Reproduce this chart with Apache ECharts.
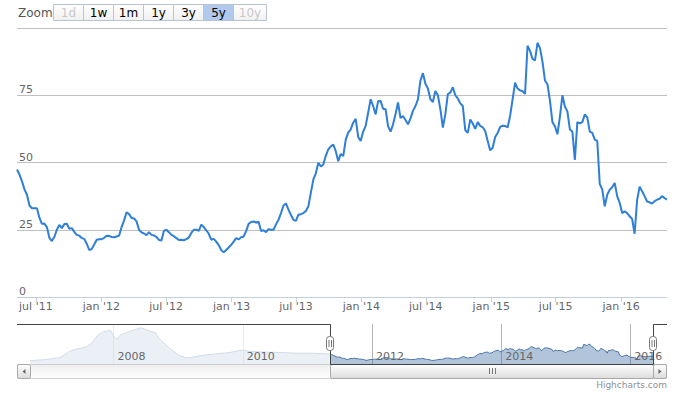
<!DOCTYPE html>
<html><head><meta charset="utf-8">
<script src="https://cdn.jsdelivr.net/npm/echarts@6/dist/echarts.min.js"></script>
<style>html,body{margin:0;padding:0;background:#fff}#c{width:679px;height:393px}</style>
</head><body><div id="c"></div>
<script>
// ---- data ----
const startDate = '2011-05-09';
const stepDays = 7;
const weeklyValues = [
47.4,45.5,43,40,38,34,33,33,33,29.5,27.2,27.3,26,22,20.8,22.3,25,26.8,25.6,27.1,
27.2,25.4,25.6,24.2,23.1,22.8,21.9,21.6,19.8,17.5,17.8,19.5,21.3,21.5,21.5,22,22.8,22.7,22.3,22.2,
22.5,22.8,26,28.5,31.5,30.8,29.4,29.2,28.1,25,24,23.6,23,24.1,23.1,22.9,22.3,21.2,21,24.6,
25,24.1,23.1,22.6,21.9,21.2,21.3,21.1,21.5,22.1,23.8,25,25,24.6,26.9,26,24.8,23.5,21.3,21.6,
20.6,19.3,17.5,16.6,17.5,18.4,19.4,20.6,21.9,21.4,22.2,22.5,24.5,27.2,27.9,28.1,27.7,28,24.5,24.8,
24.1,25.2,25,25,27,28.7,31.2,34,34.8,32.5,30.5,28.7,28.3,30.6,30.8,31.2,32,33.7,38.8,43.7,
46,49.9,48.5,49.3,52.5,54.9,56,56.7,54.2,50.5,53.2,52.4,58.5,61.1,62.3,64.8,66.2,59.5,58,61.5,
63.6,68.5,73.5,71,67.9,72.8,72.9,70,69.8,63.5,61.5,64.2,68,72.3,66.5,67.3,65.8,64.2,66.4,69.2,
71,73.5,80.5,83.2,79.3,77.5,73.5,72.5,76.6,75,69.8,63,68,75.4,76,78,75,73.8,72,71,
62,61,66,64.5,62.5,65,63.6,63.1,61.7,58,54.5,55.5,59.5,61,63.2,63.7,63.6,63,67.3,73.5,
79.7,77.5,76.8,76.5,75.5,93.4,91.5,88.5,88,94.5,92.5,87.5,80.5,79.1,73,65,63.5,60.5,67,75,
70.8,69,62.3,61.5,51,65,64.5,65,67.9,66.7,61.5,61,58.5,58,42,40,33.7,38,39.9,40.8,
42.4,37.5,35,31.2,31.8,31.2,30,29,23.5,36,41,39.3,37.5,35.5,35.2,34.7,35.6,36.2,36.5,37.5,
36.8,36.2
];
// earlier history, only visible in the navigator
const historyDates = ['2006-09-15','2006-12-01','2007-03-01','2007-04-01','2007-05-01','2007-06-01','2007-07-01','2007-08-01','2007-09-01','2007-10-01','2007-11-01','2007-12-15','2008-01-01','2008-01-20','2008-02-10','2008-03-10','2008-04-05','2008-05-05','2008-06-01','2008-07-01','2008-07-25','2008-08-25','2008-09-12','2008-10-01','2008-10-30','2008-12-05','2009-01-05','2009-02-15','2009-03-20','2009-05-15','2009-07-30','2009-10-15','2010-01-01','2010-02-05','2010-04-20','2010-08-15','2010-11-15','2011-02-15','2011-05-01'];
const historyValues = [16,20,30,45,62,70,75,82,100,135,152,159,132,116,140,148,156,164,172,164,156,148,124,108,84,60,41,29,32,41,48,54,67,60,57,54,51,51,48];

const xTickDates = ['2011-07-01','2012-01-01','2012-07-01','2013-01-01','2013-07-01','2014-01-01','2014-07-01','2015-01-01','2015-07-01','2016-01-01'];
const xTickLabels = ["jul '11","jan '12","jul '12","jan '13","jul '13","jan '14","jul '14","jan '15","jul '15","jan '16"];
const yTickValues = [0,25,50,75,100];
const navTickDates = ['2008-01-01','2010-01-01','2012-01-01','2014-01-01','2016-01-01'];
const navTickLabels = ['2008','2010','2012','2014','2016'];
const zoomButtons = ['1d','1w','1m','1y','3y','5y','10y'];
const selectedButton = '5y';
const disabledButtons = ['1d','10y'];

// ---- build ----
const FONT = 'DejaVu Sans';
const DAY = 86400000;
function ts(s){const p=s.split('-').map(Number);return Date.UTC(p[0],p[1]-1,p[2]);}
const t0 = ts(startDate);
const mainData = weeklyValues.map((v,i)=>[t0+i*stepDays*DAY, v]);
const histData = historyDates.map((d,i)=>[ts(d), historyValues[i]]);
const navData = histData.concat(mainData);
const mainMin = t0, mainMax = mainData[mainData.length-1][0];
const navMin = histData[0][0], navMax = mainMax;
const xTickTs = xTickDates.map(ts);
const navTickTs = navTickDates.map(ts);
function nearIdx(arr, v){for(let k=0;k<arr.length;k++){if(Math.abs(arr[k]-v)<DAY)return k;}return -1;}

const chart = echarts.init(document.getElementById('c'), null, {renderer:'svg', width:679, height:393});

const option = {
  animation:false,
  backgroundColor:'#fff',
  grid:[
    {left:17,right:12,top:28,bottom:96,outerBoundsMode:'none'},
    {left:30,right:26,top:324,bottom:29,outerBoundsMode:'none'}
  ],
  xAxis:[
    {type:'value',gridIndex:0,position:'bottom',min:mainMin,max:mainMax,scale:true,
     axisLine:{show:true,onZero:false,lineStyle:{color:'#C0D0E0',width:1}},
     axisTick:{show:true,customValues:xTickTs,length:5,lineStyle:{color:'#C0D0E0'}},
     axisLabel:{customValues:xTickTs,color:'#666',fontSize:11,fontFamily:FONT,margin:4,
       formatter:function(v){const k=nearIdx(xTickTs,v);return k>=0?xTickLabels[k]:'';}},
     splitLine:{show:false}},
    {type:'value',gridIndex:1,position:'bottom',min:navMin,max:navMax,scale:true,z:1,
     axisLine:{show:false,onZero:false},
     axisTick:{show:false,customValues:navTickTs},
     axisLabel:{show:false,customValues:navTickTs},
     splitLine:{show:true,lineStyle:{color:'#b4b4b4',width:1}}},
    {type:'value',gridIndex:1,position:'bottom',min:navMin,max:navMax,scale:true,z:10,
     axisLine:{show:false,onZero:false},
     axisTick:{show:false,customValues:navTickTs},
     axisLabel:{show:true,customValues:navTickTs,inside:true,align:'left',verticalAlign:'bottom',
       padding:[0,0,0,4],margin:2,color:'#666',fontSize:11,fontFamily:FONT,
       formatter:function(v){const k=nearIdx(navTickTs,v);return k>=0?navTickLabels[k]:'';}},
     splitLine:{show:false}}
  ],
  yAxis:[
    {type:'value',gridIndex:0,min:yTickValues[0],max:yTickValues[yTickValues.length-1],interval:25,
     axisLine:{show:false},axisTick:{show:false},
     splitLine:{show:true,lineStyle:{color:'#C0C0C0',width:1}},
     axisLabel:{inside:true,margin:2,verticalAlign:'bottom',color:'#666',fontSize:11,fontFamily:FONT,
       formatter:function(v){return v===yTickValues[yTickValues.length-1]?'':String(v);}}},
    {type:'value',gridIndex:1,min:0,max:190,show:false,splitLine:{show:false}}
  ],
  series:[
    {type:'line',name:'main',xAxisIndex:0,yAxisIndex:0,data:mainData,showSymbol:false,
     lineStyle:{color:'#2f7ed8',width:2},itemStyle:{color:'#2f7ed8'},z:3,silent:true},
    {type:'line',name:'navigator',xAxisIndex:1,yAxisIndex:1,data:navData,showSymbol:false,
     lineStyle:{color:'#4572A7',width:1},itemStyle:{color:'#4572A7'},
     areaStyle:{color:'#4572A7',opacity:0.42},z:2,silent:true}
  ]
};
chart.setOption(option);

// ---- chrome: range selector, navigator mask/handles, scrollbar, credits ----
const hl = Math.round(chart.convertToPixel({xAxisIndex:1}, mainMin));
const hr = Math.round(chart.convertToPixel({xAxisIndex:1}, mainMax));
const navL = Math.round(chart.convertToPixel({xAxisIndex:1}, navMin));
const navTop = 324, navBot = 364;
const sbL = 17, sbR = 667, sbTop = 364, sbH = 14;
const g = [];
function grad(a,b){return new echarts.graphic.LinearGradient(0,0,0,1,[{offset:0,color:a},{offset:1,color:b}]);}

g.push({type:'text',z:20,style:{text:'Zoom',x:18,y:13,fill:'#555',fontSize:12,fontFamily:FONT,verticalAlign:'middle'}});
let bx = 53;
zoomButtons.forEach(function(b){
  const w = b.length>2?33:30;
  const sel = b===selectedButton, dis = disabledButtons.indexOf(b)>=0;
  g.push({type:'rect',z:20,shape:{x:bx+0.5,y:4.5,width:w,height:16},
    style:{fill: sel? '#b0c9ec' : grad('#ffffff','#f0f0f0'), stroke:'#b8c4d2',lineWidth:1}});
  g.push({type:'text',z:21,style:{text:b,x:bx+0.5+w/2,y:13,align:'center',verticalAlign:'middle',
    fill: dis?'#c8c8c8':'#000',fontSize:12,fontFamily:FONT}});
  bx += w;
});

g.push({type:'rect',z:5,shape:{x:navL,y:navTop,width:hl-navL,height:navBot-navTop},style:{fill:'rgba(255,255,255,0.75)'}});

g.push({type:'rect',z:6,shape:{x:sbL+0.5,y:sbTop+0.5,width:sbR-sbL-1,height:sbH},style:{fill:grad('#eeeeee','#ffffff'),stroke:'#cccccc',lineWidth:1}});
g.push({type:'rect',z:7,shape:{x:hl+0.5,y:sbTop+0.5,width:hr-hl,height:sbH,r:2},style:{fill:grad('#ffffff','#dcdcdc'),stroke:'#a8a8a8',lineWidth:1}});
const cx = Math.round((hl+hr)/2);
[-3,0,3].forEach(function(d){
  g.push({type:'line',z:8,shape:{x1:cx+d+0.5,y1:sbTop+4,x2:cx+d+0.5,y2:sbTop+10},style:{stroke:'#777',lineWidth:1}});
});
[[sbL,'L'],[sbR-sbH,'R']].forEach(function(p){
  g.push({type:'rect',z:8,shape:{x:p[0]+0.5,y:sbTop+0.5,width:sbH-1,height:sbH,r:2},style:{fill:grad('#ffffff','#dcdcdc'),stroke:'#a8a8a8',lineWidth:1}});
  const mx = p[0]+sbH/2, my = sbTop+sbH/2+0.5;
  const pts = p[1]==='L'? [[mx-1.5,my],[mx+1.5,my-2.5],[mx+1.5,my+2.5]] : [[mx+1.5,my],[mx-1.5,my-2.5],[mx-1.5,my+2.5]];
  g.push({type:'polygon',z:9,shape:{points:pts},style:{fill:'#666'}});
});

g.push({type:'polyline',z:11,shape:{points:[[sbL,navTop+0.5],[hl+0.5,navTop+0.5],[hl+0.5,navBot+0.5],[hr+0.5,navBot+0.5],[hr+0.5,navTop+0.5],[sbR,navTop+0.5]]},
  style:{stroke:'#444',lineWidth:1,fill:null}});
[hl,hr].forEach(function(h){
  g.push({type:'rect',z:12,shape:{x:h-3.5,y:336.5,width:7,height:14,r:3},style:{fill:'#fff',stroke:'#777',lineWidth:1}});
  g.push({type:'line',z:13,shape:{x1:h-1,y1:340,x2:h-1,y2:347},style:{stroke:'#777',lineWidth:1}});
  g.push({type:'line',z:13,shape:{x1:h+1.5,y1:340,x2:h+1.5,y2:347},style:{stroke:'#777',lineWidth:1}});
});

g.push({type:'text',z:20,style:{text:'Highcharts.com',x:667,y:385,align:'right',verticalAlign:'middle',fill:'#909090',fontSize:9,fontFamily:FONT}});

chart.setOption({graphic:{elements:g}});
</script>
</body></html>
